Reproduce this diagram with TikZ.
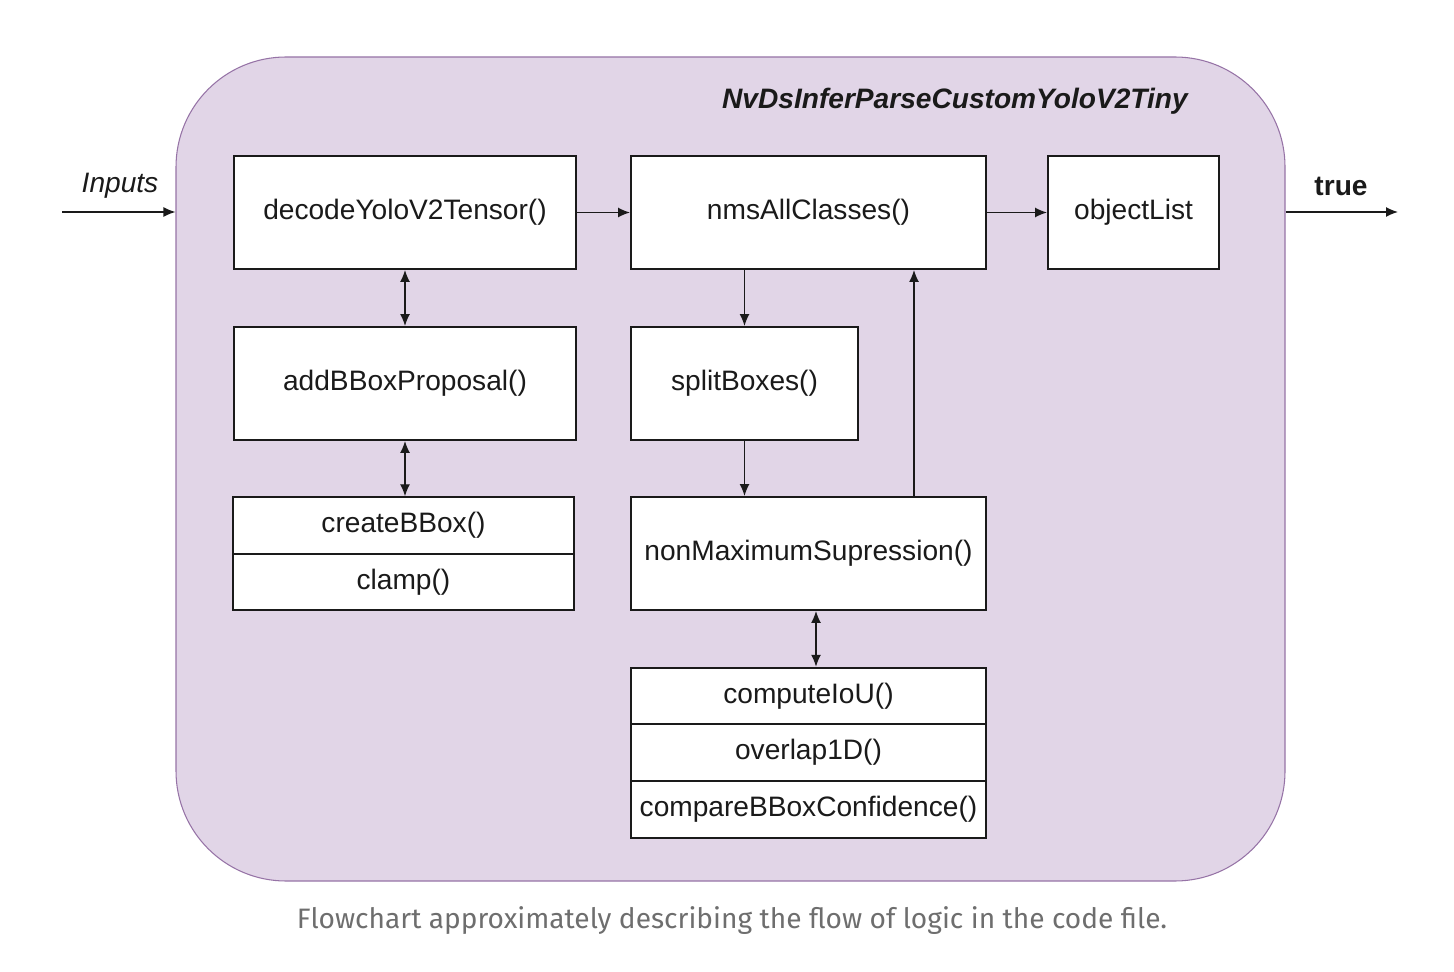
\documentclass[tikz,border=0pt]{standalone}
\usepackage{fontspec}
\setmainfont{Liberation Sans}
\newfontfamily\captionfont{Fira Sans}
\usepackage{xcolor}
\usetikzlibrary{arrows.meta, positioning, calc}
\definecolor{lavfill}{HTML}{E1D5E7}
\definecolor{lavdraw}{HTML}{9673A6}
\definecolor{inktext}{HTML}{1A1A1A}
\definecolor{capgray}{HTML}{6E6E6E}
\tikzset{
  funcbox/.style={
    draw=inktext, line width=1.1pt, fill=white, align=center,
    font=\fontsize{16}{19}\selectfont, text=inktext,
    minimum height=2.26cm, inner sep=2pt
  },
  rowbox/.style={
    draw=inktext, line width=1.1pt, fill=white, align=center,
    font=\fontsize{16}{19}\selectfont, text=inktext,
    minimum height=1.13cm, inner sep=2pt
  },
  flowarrow/.style={
    -{Latex[length=2.4mm, width=2mm]}, line width=0.8pt, color=inktext
  },
  twoarrow/.style={
    {Latex[length=2.4mm, width=2mm]}-{Latex[length=2.4mm, width=2mm]},
    line width=0.8pt, color=inktext
  },
  sidelabel/.style={
    font=\fontsize{16}{19}\selectfont, text=inktext
  },
}

\begin{document}
\begin{tikzpicture}
  \useasboundingbox (0,0) rectangle (29.08,-19.44);

  % --- Container ---
  \node[draw=lavdraw, fill=lavfill, line width=0.6pt, rounded corners=2.2cm,
    minimum width=22.18cm, minimum height=16.48cm, inner sep=0pt] (parser) at (14.61, -9.38) {};
  \node[sidelabel, anchor=east, font=\fontsize{16}{19}\selectfont\bfseries\itshape] (title) at (23.88, -2.03)
    {NvDsInferParseCustomYoloV2Tiny};

  % --- Top row ---
  \node[funcbox, minimum width=6.84cm] (decode) at (8.1, -4.25) {decodeYoloV2Tensor()};
  \node[funcbox, minimum width=7.1cm] (nms) at (16.17, -4.25) {nmsAllClasses()};
  \node[funcbox, minimum width=3.42cm] (objlist) at (22.67, -4.25) {objectList};

  % --- Left column ---
  \node[funcbox, minimum width=6.84cm] (addprop) at (8.1, -7.67) {addBBoxProposal()};
  \node[rowbox, minimum width=6.82cm] (createbb) at (8.07, -10.51) {createBBox()};
  \node[rowbox, minimum width=6.82cm] (clamp) at (8.07, -11.64) {clamp()};

  % --- Right column ---
  \node[funcbox, minimum width=4.54cm] (split) at (14.89, -7.67) {splitBoxes()};
  \node[funcbox, minimum width=7.1cm] (nonmax) at (16.17, -11.07) {nonMaximumSupression()};
  \node[rowbox, minimum width=7.1cm] (iou) at (16.17, -13.92) {computeIoU()};
  \node[rowbox, minimum width=7.1cm] (overlap) at (16.17, -15.05) {overlap1D()};
  \node[rowbox, minimum width=7.1cm] (confid) at (16.17, -16.19) {compareBBoxConfidence()};

  % --- Inputs and output ---
  \coordinate (inpt) at (1.24, -4.24);
  \coordinate (outpt) at (27.96, -4.24);
  \node[sidelabel, font=\fontsize{16}{19}\selectfont\itshape] (inlabel) at (2.4, -3.72) {Inputs};
  \node[sidelabel, font=\fontsize{16}{19}\selectfont\bfseries] (outlabel) at (26.82, -3.72) {true};

  % --- Arrows ---
  \draw[flowarrow] (inpt) -- (inpt -| parser.west);
  \draw[flowarrow] (outpt -| parser.east) -- (outpt);
  \draw[flowarrow] (decode.east) -- (nms.west);
  \draw[flowarrow] (nms.east) -- (objlist.west);
  \draw[twoarrow] (decode.south) -- (addprop.north);
  \draw[twoarrow] (addprop.south) -- (createbb.north -| addprop);
  \draw[flowarrow] (nms.south -| split) -- (split.north);
  \draw[flowarrow] (split.south) -- (nonmax.north -| split);
  \coordinate (backup) at (18.28, -11.07);
  \draw[flowarrow] (nonmax.north -| backup) -- (nms.south -| backup);
  \draw[twoarrow] (nonmax.south -| 16.32,0) -- (iou.north -| 16.32,0);

  % --- Caption ---
  \node[font=\captionfont\fontsize{16}{19}\selectfont, text=capgray] (caption) at (14.64, -18.42)
    {Flowchart approximately describing the flow of logic in the code file.};

\end{tikzpicture}
\end{document}
